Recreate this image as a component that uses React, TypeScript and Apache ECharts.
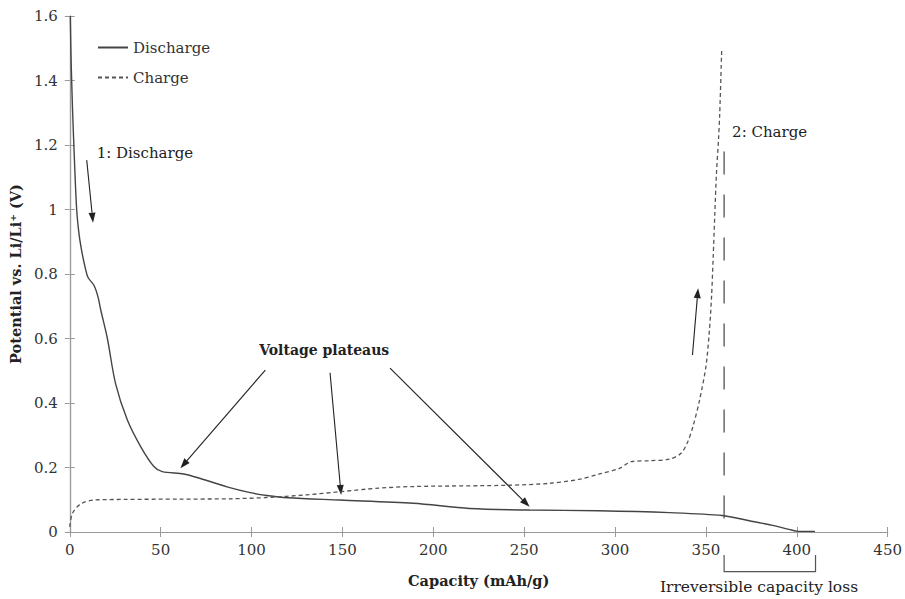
import React, { useEffect, useRef } from "react";
import * as echarts from "echarts";

const FONT = "'DejaVu Serif', serif";

// Capacity (mAh/g), Potential (V)
const dischargeCap = [0.3, 0.8, 1.6, 2.6, 3.8, 5.2, 6.8, 8.5, 10, 13.3, 15.5, 17, 20.7, 25.2, 31.7, 39, 46.3, 50.9, 62.7, 71.9, 86.5, 99.3, 108.5, 120, 148.7, 189, 220, 253, 291, 330, 359, 373.8, 388, 395.7, 400.8, 410];
const dischargeV = [1.6, 1.45, 1.3, 1.15, 1.0, 0.92, 0.865, 0.82, 0.79, 0.765, 0.73, 0.69, 0.6, 0.46, 0.347, 0.265, 0.203, 0.187, 0.18, 0.166, 0.14, 0.122, 0.113, 0.106, 0.099, 0.089, 0.073, 0.068, 0.066, 0.06, 0.051, 0.035, 0.019, 0.008, 0.002, 0.002];

const chargeCap = [0, 1.5, 6, 13.3, 30, 60, 88, 108.5, 130, 148.7, 170, 189, 242, 264, 280, 291.4, 302.4, 308.8, 318.9, 330, 336.3, 340, 343, 346.5, 350, 351.8, 353.1, 354, 354.9, 355.8, 356.9, 357.6, 358.7];
const chargeV = [0.016, 0.058, 0.087, 0.099, 0.101, 0.102, 0.103, 0.107, 0.115, 0.125, 0.136, 0.141, 0.145, 0.151, 0.163, 0.18, 0.197, 0.218, 0.221, 0.226, 0.244, 0.28, 0.33, 0.409, 0.513, 0.616, 0.73, 0.854, 0.988, 1.112, 1.215, 1.298, 1.5];

const xTicks = { min: 0, max: 450, interval: 50 };
const yTicks = { min: 0, max: 1.6, interval: 0.2 };

// Annotation anchors in data units [capacity, potential]
const arrowTails = [[9.33, 1.153], [342.6, 0.549], [107.6, 0.502], [143.2, 0.494], [176.2, 0.508]];
const arrowHeads = [[12.8, 0.959], [345.7, 0.756], [60.9, 0.198], [149.3, 0.115], [253, 0.078]];
const labelTexts = ["1: Discharge", "2: Charge", "Voltage plateaus", "Irreversible capacity loss"];
const labelAnchors = [[14.8, 1.175], [364.4, 1.24], [140, 0.564], [379.2, -0.171]];
const irreversibleLine = [[360, 1.18], [360, 0]];
const bracketPts = [[360, -0.071], [360, -0.123], [410.3, -0.123], [410.3, -0.071]];

const zip = (a: number[], b: number[]) => a.map((v, i) => [v, b[i]]);

export default function App() {
  const ref = useRef<HTMLDivElement>(null);
  useEffect(() => {
    if (!ref.current) return;
    const chart = echarts.init(ref.current, null, { renderer: "svg" });
    const axisLine = { show: true, lineStyle: { color: "#9a9a9a", width: 1.2 } };
    const tick = { show: true, inside: false, length: 5, lineStyle: { color: "#9a9a9a" } };
    chart.setOption({
      animation: false,
      backgroundColor: "#ffffff",
      grid: { left: 69, right: 16, top: 16, bottom: 67, containLabel: false },
      legend: {
        orient: "vertical",
        left: 92,
        top: 35,
        itemWidth: 30,
        itemHeight: 14,
        itemGap: 15,
        itemStyle: { opacity: 0 },
        textStyle: { fontFamily: FONT, fontSize: 15, color: "#333" },
        data: ["Discharge", "Charge"],
      },
      xAxis: [
        {
          type: "value",
          ...xTicks,
          name: "Capacity (mAh/g)",
          nameLocation: "middle",
          nameGap: 41,
          nameTextStyle: { fontFamily: FONT, fontSize: 14.5, fontWeight: "bold", color: "#222" },
          axisLine,
          axisTick: tick,
          axisLabel: { fontFamily: FONT, fontSize: 15, color: "#333", margin: 10 },
          splitLine: { show: false },
        },
        {
          type: "value",
          position: "top",
          ...xTicks,
          axisLine,
          axisTick: tick,
          axisLabel: { show: false },
          splitLine: { show: false },
        },
      ],
      yAxis: [
        {
          type: "value",
          ...yTicks,
          name: "Potential vs. Li/Li\u207A (V)",
          nameLocation: "middle",
          nameGap: 43,
          nameTextStyle: { fontFamily: FONT, fontSize: 14.5, fontWeight: "bold", color: "#222" },
          axisLine,
          axisTick: tick,
          axisLabel: { fontFamily: FONT, fontSize: 15, color: "#333", margin: 12 },
          splitLine: { show: false },
        },
        {
          type: "value",
          position: "right",
          ...yTicks,
          axisLine,
          axisTick: tick,
          axisLabel: { show: false },
          splitLine: { show: false },
        },
      ],
      series: [
        {
          name: "Discharge",
          type: "line",
          data: zip(dischargeCap, dischargeV),
          symbol: "none",
          smooth: 0.3,
          lineStyle: { color: "#444444", width: 1.4 },
          itemStyle: { color: "#444444" },
        },
        {
          name: "Charge",
          type: "line",
          data: zip(chargeCap, chargeV),
          symbol: "none",
          smooth: 0.3,
          lineStyle: { color: "#555555", width: 1.3, type: [4, 3] },
          itemStyle: { color: "#555555" },
        },
      ],
    });

    const px = (p: number[]) => chart.convertToPixel({ gridIndex: 0 }, p) as number[];
    const graphics: any[] = [];
    arrowTails.forEach((t, i) => {
      const a = px(t);
      const b = px(arrowHeads[i]);
      const dx = b[0] - a[0];
      const dy = b[1] - a[1];
      const len = Math.sqrt(dx * dx + dy * dy);
      const ux = dx / len;
      const uy = dy / len;
      const hl = 10;
      const hw = 3.5;
      const bx = b[0] - ux * hl;
      const by = b[1] - uy * hl;
      graphics.push({
        type: "line",
        shape: { x1: a[0], y1: a[1], x2: bx, y2: by },
        style: { stroke: "#222", lineWidth: 1.1 },
      });
      graphics.push({
        type: "polygon",
        shape: { points: [[b[0], b[1]], [bx - uy * hw, by + ux * hw], [bx + uy * hw, by - ux * hw]] },
        style: { fill: "#222" },
      });
    });
    const aligns = ["left", "left", "center", "center"];
    const weights = ["normal", "normal", "bold", "normal"];
    const sizes = [15, 15, 14, 15.5];
    labelTexts.forEach((t, i) => {
      const p = px(labelAnchors[i]);
      graphics.push({
        type: "text",
        x: p[0],
        y: p[1],
        style: {
          text: t,
          fontFamily: FONT,
          fontSize: sizes[i],
          fontWeight: weights[i],
          fill: "#222",
          align: aligns[i],
          verticalAlign: "middle",
        },
      });
    });
    const v1 = px(irreversibleLine[0]);
    const v2 = px(irreversibleLine[1]);
    graphics.push({
      type: "line",
      shape: { x1: v1[0], y1: v1[1], x2: v2[0], y2: v2[1] },
      style: { stroke: "#444", lineWidth: 1.2, lineDash: [23, 20] },
    });
    graphics.push({
      type: "polyline",
      shape: { points: bracketPts.map(px) },
      style: { stroke: "#555", lineWidth: 1.2, fill: null },
    });
    chart.setOption({ graphic: graphics });

    return () => chart.dispose();
  }, []);
  return <div ref={ref} style={{ width: 905, height: 599, position: "absolute", left: 0, top: 0 }} />;
}
